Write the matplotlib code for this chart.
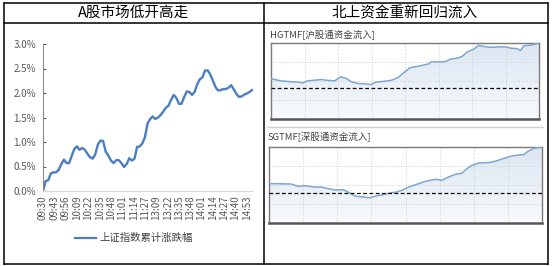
import numpy as np
import matplotlib
matplotlib.use('Agg')
import matplotlib.pyplot as plt
from matplotlib.lines import Line2D

plt.rcParams['font.family'] = ['Noto Sans CJK SC', 'DejaVu Sans']

W, H = 553, 266

# 上证指数累计涨跌幅 (%), 每3分钟一个点, 共242个交易分钟
sh_step = 3
sh_pct = [0.00, 0.20, 0.22, 0.36, 0.38, 0.38, 0.43, 0.55, 0.64, 0.57,
          0.57, 0.72, 0.86, 0.91, 0.84, 0.88, 0.84, 0.76, 0.69, 0.66,
          0.75, 0.95, 1.03, 1.02, 0.80, 0.72, 0.62, 0.57, 0.63, 0.63,
          0.57, 0.49, 0.55, 0.67, 0.62, 0.66, 0.90, 0.91, 0.97, 1.10,
          1.38, 1.47, 1.52, 1.47, 1.50, 1.55, 1.62, 1.70, 1.74, 1.86,
          1.96, 1.90, 1.78, 1.78, 1.92, 2.03, 2.02, 1.96, 2.02, 2.18,
          2.28, 2.32, 2.46, 2.46, 2.38, 2.25, 2.12, 2.05, 2.06, 2.08,
          2.08, 2.11, 2.16, 2.07, 1.98, 1.92, 1.93, 1.97, 1.99, 2.02, 2.06]
time_labels = ['09:30', '09:43', '09:56', '10:09', '10:22', '10:35', '10:48',
               '11:01', '11:14', '11:27', '13:09', '13:22', '13:35', '13:48',
               '14:01', '14:14', '14:27', '14:40', '14:53']
n_minutes = 242

# 沪股通 (相对刻度)
hg_t = [0, 0.2, 0.4, 0.6, 0.8, 0.95, 1.1, 1.3, 1.5, 1.7, 1.9, 2.08, 2.25, 2.4,
        2.6, 2.8, 2.97, 3.14, 3.4, 3.6, 3.8, 4.0, 4.15, 4.35, 4.55, 4.7, 4.8,
        5.0, 5.2, 5.35, 5.55, 5.7, 5.85, 6.05, 6.2, 6.35, 6.55, 6.8, 7.0,
        7.15, 7.35, 7.45, 7.55, 7.75, 8.0]
hg_v = [2.13, 2.04, 1.99, 1.96, 1.94, 1.90, 2.01, 2.04, 2.08, 2.03, 2.01, 2.22,
        2.13, 1.96, 1.87, 1.85, 1.81, 1.94, 1.99, 2.04, 2.19, 2.49, 2.70, 2.76,
        2.84, 2.90, 3.02, 3.00, 3.02, 3.15, 3.20, 3.29, 3.52, 3.68, 3.88, 3.82,
        3.77, 3.80, 3.80, 3.73, 3.70, 3.61, 3.86, 3.89, 4.00]
hg_zero = 1.63

# 深股通 (相对刻度)
sg_t = [0, 0.26, 0.66, 0.85, 1.05, 1.34, 1.54, 1.73, 1.93, 2.18, 2.37, 2.52,
        2.71, 2.96, 3.16, 3.35, 3.55, 3.74, 3.89, 4.09, 4.38, 4.58, 4.87, 5.07,
        5.26, 5.46, 5.66, 5.8, 5.95, 6.15, 6.44, 6.63, 6.83, 7.12, 7.32, 7.47,
        7.6, 7.8, 8.0]
sg_v = [2.07, 2.07, 2.05, 1.93, 1.96, 1.89, 1.89, 1.81, 1.74, 1.75, 1.58, 1.42,
        1.37, 1.33, 1.44, 1.49, 1.58, 1.63, 1.72, 1.89, 2.07, 2.19, 2.30, 2.25,
        2.42, 2.56, 2.63, 2.86, 3.04, 3.16, 3.18, 3.25, 3.37, 3.53, 3.58, 3.60,
        3.79, 3.95, 4.00]
sg_zero = 1.60


def rect(x0, y0, x1, y1):
    return [x0 / W, 1 - y1 / H, (x1 - x0) / W, (y1 - y0) / H]


def fx(x):
    return x / W


def fy(y):
    return 1 - y / H


fig = plt.figure(figsize=(W / 100, H / 100), dpi=100)

# 表格框线
for xs, ys in [([4, 548], [3, 3]), ([4, 548], [23, 23]), ([4, 548], [264, 264]),
               ([4, 4], [3, 264]), ([548, 548], [3, 264]), ([264, 264], [3, 264])]:
    fig.add_artist(Line2D([fx(v) for v in xs], [fy(v) for v in ys],
                          color='black', lw=1.1))

fig.text(fx(134), fy(13), 'A股市场低开高走', ha='center', va='center',
         fontsize=10.5, color='black', fontweight='light')
fig.text(fx(405), fy(13), '北上资金重新回归流入', ha='center', va='center',
         fontsize=10.5, color='black', fontweight='light')

# 左图
ax = fig.add_axes(rect(43, 44, 253, 191))
x_sh = np.arange(len(sh_pct)) * sh_step
ax.plot(x_sh, np.array(sh_pct) / 100, color='#4a7ebf', lw=1.7)
ax.set_xlim(0, n_minutes - 1)
ax.set_ylim(0, 0.03)
ax.set_yticks(np.arange(0, 0.031, 0.005))
ax.set_yticklabels(['%.1f%%' % (v * 100) for v in np.arange(0, 0.031, 0.005)])
ax.set_xticks(np.arange(len(time_labels)) * 13)
ax.set_xticklabels(time_labels, rotation=90)
ax.tick_params(axis='y', labelsize=7, colors='#595959', length=2, direction='in', pad=5)
ax.tick_params(axis='x', labelsize=7, colors='#595959', length=0, pad=3)
for s in ['top', 'right']:
    ax.spines[s].set_visible(False)
ax.spines['left'].set_color('#8c8c8c')
ax.spines['bottom'].set_color('#d9d9d9')
ax.patch.set_alpha(0)

fig.add_artist(Line2D([fx(75), fx(96)], [fy(238), fy(238)], color='#4a7ebf', lw=1.6))
fig.text(fx(99), fy(238), '上证指数累计涨跌幅', ha='left', va='center',
         fontsize=7.5, color='#404040')


def flow_panel(box, label_xy, label, t, v, zero):
    a = fig.add_axes(rect(*box))
    a.set_xlim(0, 8)
    a.set_ylim(0, 4)
    grad = np.linspace(0, 1, 100).reshape(-1, 1)
    cmap = matplotlib.colors.LinearSegmentedColormap.from_list(
        'g', ['#f8fafd', '#dce6f2'])
    im = a.imshow(grad, extent=[0, 8, 0, 4], origin='lower', aspect='auto',
                  cmap=cmap, zorder=0)
    poly = a.fill_between(t, v, 0, color='none')
    im.set_clip_path(poly.get_paths()[0], transform=a.transData)
    a.plot(t, v, color='#7ea6d3', lw=1.1, zorder=3)
    a.axhline(zero, color='black', lw=0.9, ls=(0, (3, 2)), zorder=4)
    a.set_xticks(np.arange(1, 8))
    a.set_yticks([1, 2, 3])
    a.grid(True, color='#d0d0d0', ls=':', lw=0.7, zorder=1)
    a.tick_params(length=0, labelbottom=False, labelleft=False)
    for s in a.spines.values():
        s.set_color('#7a7a7a')
        s.set_linewidth(1.0)
    a.spines['bottom'].set_linewidth(1.8)
    a.spines['bottom'].set_color('#555555')
    fig.text(fx(label_xy[0]), fy(label_xy[1]), label, ha='left', va='center',
             fontsize=6.8, color='#404040')
    return a


flow_panel((271, 43, 539, 119), (270, 34), 'HGTMF[沪股通资金流入]', hg_t, hg_v, hg_zero)
flow_panel((269, 147, 542, 223), (268, 137), 'SGTMF[深股通资金流入]', sg_t, sg_v, sg_zero)

fig.add_artist(Line2D([fx(267), fx(543)], [fy(127), fy(127)], color='#d0d0d0', lw=1))

fig.savefig('out.png', dpi=100)
